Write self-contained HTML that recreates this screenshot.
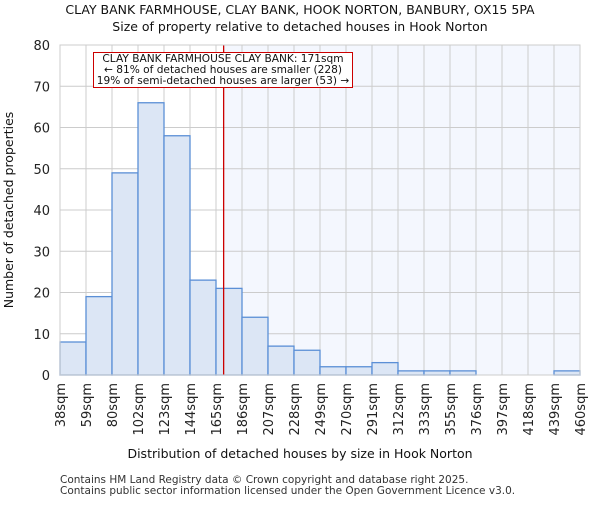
<!DOCTYPE html>
<html><head><meta charset="utf-8"><style>body{margin:0;background:#fff}svg{font-family:"DejaVu Sans","Liberation Sans",sans-serif}</style></head>
<body>
<svg id="c" width="600" height="500" xmlns="http://www.w3.org/2000/svg"></svg>
<script>
const tickLabels=["38sqm","59sqm","80sqm","102sqm","123sqm","144sqm","165sqm","186sqm","207sqm","228sqm","249sqm","270sqm","291sqm","312sqm","333sqm","355sqm","376sqm","397sqm","418sqm","439sqm","460sqm"];
const counts=[8,19,49,66,58,23,21,14,7,6,2,2,3,1,1,1,0,0,0,1];
const yTicks=[0,10,20,30,40,50,60,70,80];
const markerValue=171;
const binEdges=[38,59,80,101.5,122.6,143.7,164.8,185.9,207,228,249,270,291,312,333,354.5,375.6,396.7,417.8,438.9,460];
const L=60,R=580,T=45,B=375;
const nb=counts.length,bw=(R-L)/nb;
const X=i=>L+i*bw;
const Y=v=>B-(v/80)*(B-T);
function xv(v){for(let i=0;i<nb;i++){if(v>=binEdges[i]&&v<=binEdges[i+1])return X(i)+(v-binEdges[i])/(binEdges[i+1]-binEdges[i])*bw;}return R;}
const s=document.getElementById('c');const NS='http://www.w3.org/2000/svg';
function el(t,a,txt){const e=document.createElementNS(NS,t);for(const k in a)e.setAttribute(k,a[k]);if(txt!=null)e.textContent=txt;s.appendChild(e);return e;}
const mx=xv(markerValue);
let e=el('rect',{x:mx,y:T,width:R-mx,height:B-T,fill:'#f4f7fe'});


yTicks.forEach(v=>{let g=el('line',{x1:L,x2:R,y1:Y(v),y2:Y(v),stroke:'#cccccc','stroke-width':1});


let t=el('text',{x:L-10,y:Y(v)+5,'text-anchor':'end','font-size':13,fill:'#222'},v);

});
tickLabels.forEach((lb,i)=>{let g=el('line',{x1:X(i),x2:X(i),y1:T,y2:B,stroke:'#cccccc','stroke-width':1});


let t=el('text',{transform:`translate(${X(i)+5},${B+8}) rotate(-90)`,'text-anchor':'end','font-size':13,fill:'#222'},lb);

});
counts.forEach((c,i)=>{if(c<=0)return;let r=el('rect',{x:X(i),y:Y(c),width:bw,height:B-Y(c),fill:'#dce6f5',stroke:'#5b8fd6','stroke-width':1.3});

});
e=el('line',{x1:mx,x2:mx,y1:T,y2:B,stroke:'#cc0000','stroke-width':1.3});


e=el('rect',{x:L,y:T,width:R-L,height:B-T,fill:'none',stroke:'#cccccc'});


e=el('rect',{x:93.5,y:52.5,width:259,height:35,fill:'#fff',stroke:'#cc0000','stroke-width':1});


[["CLAY BANK FARMHOUSE CLAY BANK: 171sqm",62],["← 81% of detached houses are smaller (228)",73],["19% of semi-detached houses are larger (53) →",84]].forEach(([t,y])=>{let a=el('text',{x:223,y:y,'text-anchor':'middle','font-size':10.6,fill:'#111'},t);

});
e=el('text',{x:300,y:14,'text-anchor':'middle','font-size':12.5,fill:'#111'},'CLAY BANK FARMHOUSE, CLAY BANK, HOOK NORTON, BANBURY, OX15 5PA');


e=el('text',{x:300,y:31,'text-anchor':'middle','font-size':12.5,fill:'#111'},'Size of property relative to detached houses in Hook Norton');


e=el('text',{x:300,y:458,'text-anchor':'middle','font-size':12.5,fill:'#111'},'Distribution of detached houses by size in Hook Norton');


e=el('text',{transform:'translate(13,210) rotate(-90)','text-anchor':'middle','font-size':12.5,fill:'#111'},'Number of detached properties');


e=el('text',{x:60,y:483,'font-size':10.5,fill:'#333'},'Contains HM Land Registry data © Crown copyright and database right 2025.');


e=el('text',{x:60,y:494,'font-size':10.5,fill:'#333'},'Contains public sector information licensed under the Open Government Licence v3.0.');


</script>
</body></html>
